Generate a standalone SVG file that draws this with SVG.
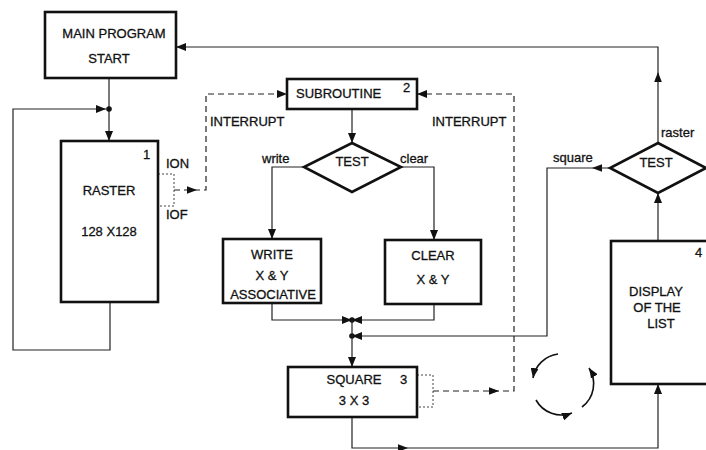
<svg xmlns="http://www.w3.org/2000/svg" xmlns:xlink="http://www.w3.org/1999/xlink" width="706" height="450" viewBox="0 0 706 450">
<style>
  .box { fill: none; stroke: #111; stroke-width: 2.6; }
  .ln { fill: none; stroke: #222; stroke-width: 1.2; }
  .dash { fill: none; stroke: #222; stroke-width: 1.2; stroke-dasharray: 6 4; }
  .dot { fill: none; stroke: #444; stroke-width: 1; stroke-dasharray: 2 2; }
  .t { font-family: "Liberation Sans", Arial, sans-serif; font-size: 13px; fill: #111; stroke: #111; stroke-width: 0.3; }
  .c { text-anchor: middle; }
  .arc { fill: none; stroke: #111; stroke-width: 1.6; }
</style>
<defs>
  <path id="ah" d="M0,0 L-10,-3.8 L-10,3.8 Z" fill="#111"/>
  <marker id="m" viewBox="0 0 10 8" refX="10" refY="4" markerWidth="10" markerHeight="8" markerUnits="userSpaceOnUse" orient="auto">
    <path d="M0,0 L10,4 L0,8 Z" fill="#111"/>
  </marker>
</defs>
<rect width="706" height="450" fill="#fff"/>

<g id="connectors">
  <path class="ln" d="M109,78 V141" marker-end="url(#m)"/>
  <circle cx="109" cy="109" r="2.8" fill="#111"/>
  <path class="ln" d="M110,302 V350 H13 V109 H106" marker-end="url(#m)"/>
  <path class="dot" d="M158,174 H174 V206 H158"/>
  <path class="dash" d="M174,190 H206 V94 H287" marker-end="url(#m)"/>
  <use xlink:href="#ah" transform="translate(197,190)"/>
  <path class="ln" d="M352,109 V143" marker-end="url(#m)"/>
  <path class="ln" d="M304,167 H272 V239" marker-end="url(#m)"/>
  <path class="ln" d="M401,167 H434 V240" marker-end="url(#m)"/>
  <path class="ln" d="M272,303 V320 H352" marker-end="url(#m)"/>
  <path class="ln" d="M434,304 V320 H352" marker-end="url(#m)"/>
  <circle cx="352" cy="320" r="2.8" fill="#111"/>
  <circle cx="352" cy="336" r="2.8" fill="#111"/>
  <path class="ln" d="M352,320 V367" marker-end="url(#m)"/>
  <path class="ln" d="M610,168 H547 V336 H352" marker-end="url(#m)"/>
  <use xlink:href="#ah" transform="translate(592,168) rotate(180)"/>
  <path class="dot" d="M417,375 H433 V407 H417"/>
  <path class="dash" d="M433,391 H514 V94 H417" marker-end="url(#m)"/>
  <use xlink:href="#ah" transform="translate(499,391)"/>
  <path class="ln" d="M352,417 V448 H658 V384" marker-end="url(#m)"/>
  <use xlink:href="#ah" transform="translate(408,448)"/>
  <path class="ln" d="M658,241 V193" marker-end="url(#m)"/>
  <path class="ln" d="M658,143 V47 H176" marker-end="url(#m)"/>
  <use xlink:href="#ah" transform="translate(658,72) rotate(-90)"/>
</g>

<g id="main">
  <rect class="box" x="45" y="12" width="131" height="66"/>
  <text class="t c" x="114" y="38">MAIN PROGRAM</text>
  <text class="t c" x="109" y="63">START</text>
</g>

<g id="raster">
  <rect class="box" x="61" y="141" width="97" height="161"/>
  <text class="t" x="143" y="159">1</text>
  <text class="t c" x="109" y="195">RASTER</text>
  <text class="t c" x="109" y="236">128 X128</text>
  <text class="t" x="166" y="168">ION</text>
  <text class="t" x="166" y="219">IOF</text>
</g>

<g id="interrupt-left">
  <text class="t" x="210" y="126" font-size="12.5">INTERRUPT</text>
</g>

<g id="interrupt-right">
  <text class="t" x="432" y="126" font-size="12.5">INTERRUPT</text>
</g>

<g id="subroutine">
  <rect class="box" x="287" y="79" width="130" height="30"/>
  <text class="t" x="296" y="98">SUBROUTINE</text>
  <text class="t" x="403" y="92">2</text>
</g>

<g id="test1">
  <polygon class="box" points="352,143 401,167 352,192 304,167"/>
  <text class="t c" x="352" y="166">TEST</text>
  <text class="t" x="262" y="163">write</text>
  <text class="t" x="400" y="163">clear</text>
</g>

<g id="write">
  <rect class="box" x="223" y="239" width="98" height="64"/>
  <text class="t c" x="272" y="259">WRITE</text>
  <text class="t c" x="272" y="280">X &amp; Y</text>
  <text class="t c" x="273" y="299">ASSOCIATIVE</text>
</g>

<g id="clear">
  <rect class="box" x="385" y="240" width="96" height="64"/>
  <text class="t c" x="433" y="260">CLEAR</text>
  <text class="t c" x="433" y="284">X &amp; Y</text>
</g>

<g id="square">
  <rect class="box" x="288" y="367" width="129" height="50"/>
  <text class="t c" x="354" y="384">SQUARE</text>
  <text class="t" x="400" y="384">3</text>
  <text class="t c" x="354" y="405">3 X 3</text>
</g>

<g id="test2">
  <polygon class="box" points="658,143 706,168 658,193 610,168"/>
  <text class="t c" x="656" y="167">TEST</text>
  <text class="t" x="661" y="137">raster</text>
  <text class="t" x="553" y="162">square</text>
</g>

<g id="display">
  <rect class="box" x="611" y="241" width="110" height="143"/>
  <text class="t" x="695" y="257">4</text>
  <text class="t c" x="656" y="296">DISPLAY</text>
  <text class="t c" x="657" y="312">OF THE</text>
  <text class="t c" x="661" y="328">LIST</text>
</g>

<g id="cycle">
  <path class="arc" d="M558,354 A29,29 0 0 0 533,378" marker-end="url(#m)"/>
  <path class="arc" d="M536,400 A29,29 0 0 0 572,413" marker-end="url(#m)"/>
  <path class="arc" d="M582,407 A29,29 0 0 0 589,368" marker-end="url(#m)"/>
</g>
</svg>
